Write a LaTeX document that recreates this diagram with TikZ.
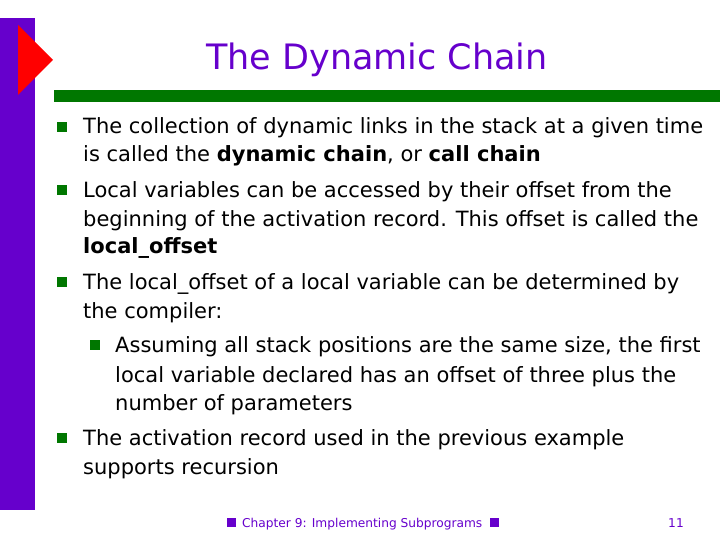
\documentclass[tikz,border=0pt]{standalone}
\usepackage{fontspec}
\setmainfont{DejaVu Sans}
\definecolor{pur}{HTML}{6600CC}
\definecolor{grn}{HTML}{007700}
\begin{document}
\begin{tikzpicture}[x=1pt,y=-1pt,
  ln/.style={anchor=base west,inner sep=0pt,font=\fontsize{21}{24}\selectfont},
  bul/.style={fill=grn,minimum size=10pt,inner sep=0pt},
  fb/.style={fill=pur,minimum size=9pt,inner sep=0pt}]
\useasboundingbox (0,0) rectangle (720,540);
\fill[pur] (0,18) rectangle (35,510);
\fill[red] (18,25) -- (53,60) -- (18,95) -- cycle;
\fill[grn] (54,90) rectangle (720,102);
\node[anchor=base,text=pur,font=\fontsize{35}{40}\selectfont] (title) at (377,70) {The Dynamic Chain};
\foreach \y in {134,197,289,445} \node[bul] at (62,\y-7) {};
\node[bul] at (95,352-7) {};
\node[ln] (l1) at (83,134) {The collection of dynamic links in the stack at a given time};
\node[ln] (l2) at (83,162) {is called the \textbf{dynamic chain}, or \textbf{call chain}};
\node[ln] (l3) at (83,197) {Local variables can be accessed by their offset from the};
\node[ln] (l4) at (83,226) {beginning of the activation record. This offset is called the};
\node[ln] (l5) at (83,254) {\textbf{local\_offset}};
\node[ln] (l6) at (83,289) {The local\_offset of a local variable can be determined by};
\node[ln] (l7) at (83,318) {the compiler:};
\node[ln] (l8) at (115,352) {Assuming all stack positions are the same size, the first};
\node[ln] (l9) at (115,382) {local variable declared has an offset of three plus the};
\node[ln] (l10) at (115,410) {number of parameters};
\node[ln] (l11) at (83,445) {The activation record used in the previous example};
\node[ln] (l12) at (83,474) {supports recursion};
\node[fb] at (231,522) {};
\node[anchor=base west,inner sep=0pt,text=pur,font=\fontsize{12.2}{14}\selectfont] (foot) at (242,527) {Chapter 9: Implementing Subprograms};
\node[fb] at (494,522) {};
\node[anchor=base,inner sep=0pt,text=pur,font=\fontsize{12.2}{14}\selectfont] (num) at (676,527) {11};
\end{tikzpicture}
\end{document}
